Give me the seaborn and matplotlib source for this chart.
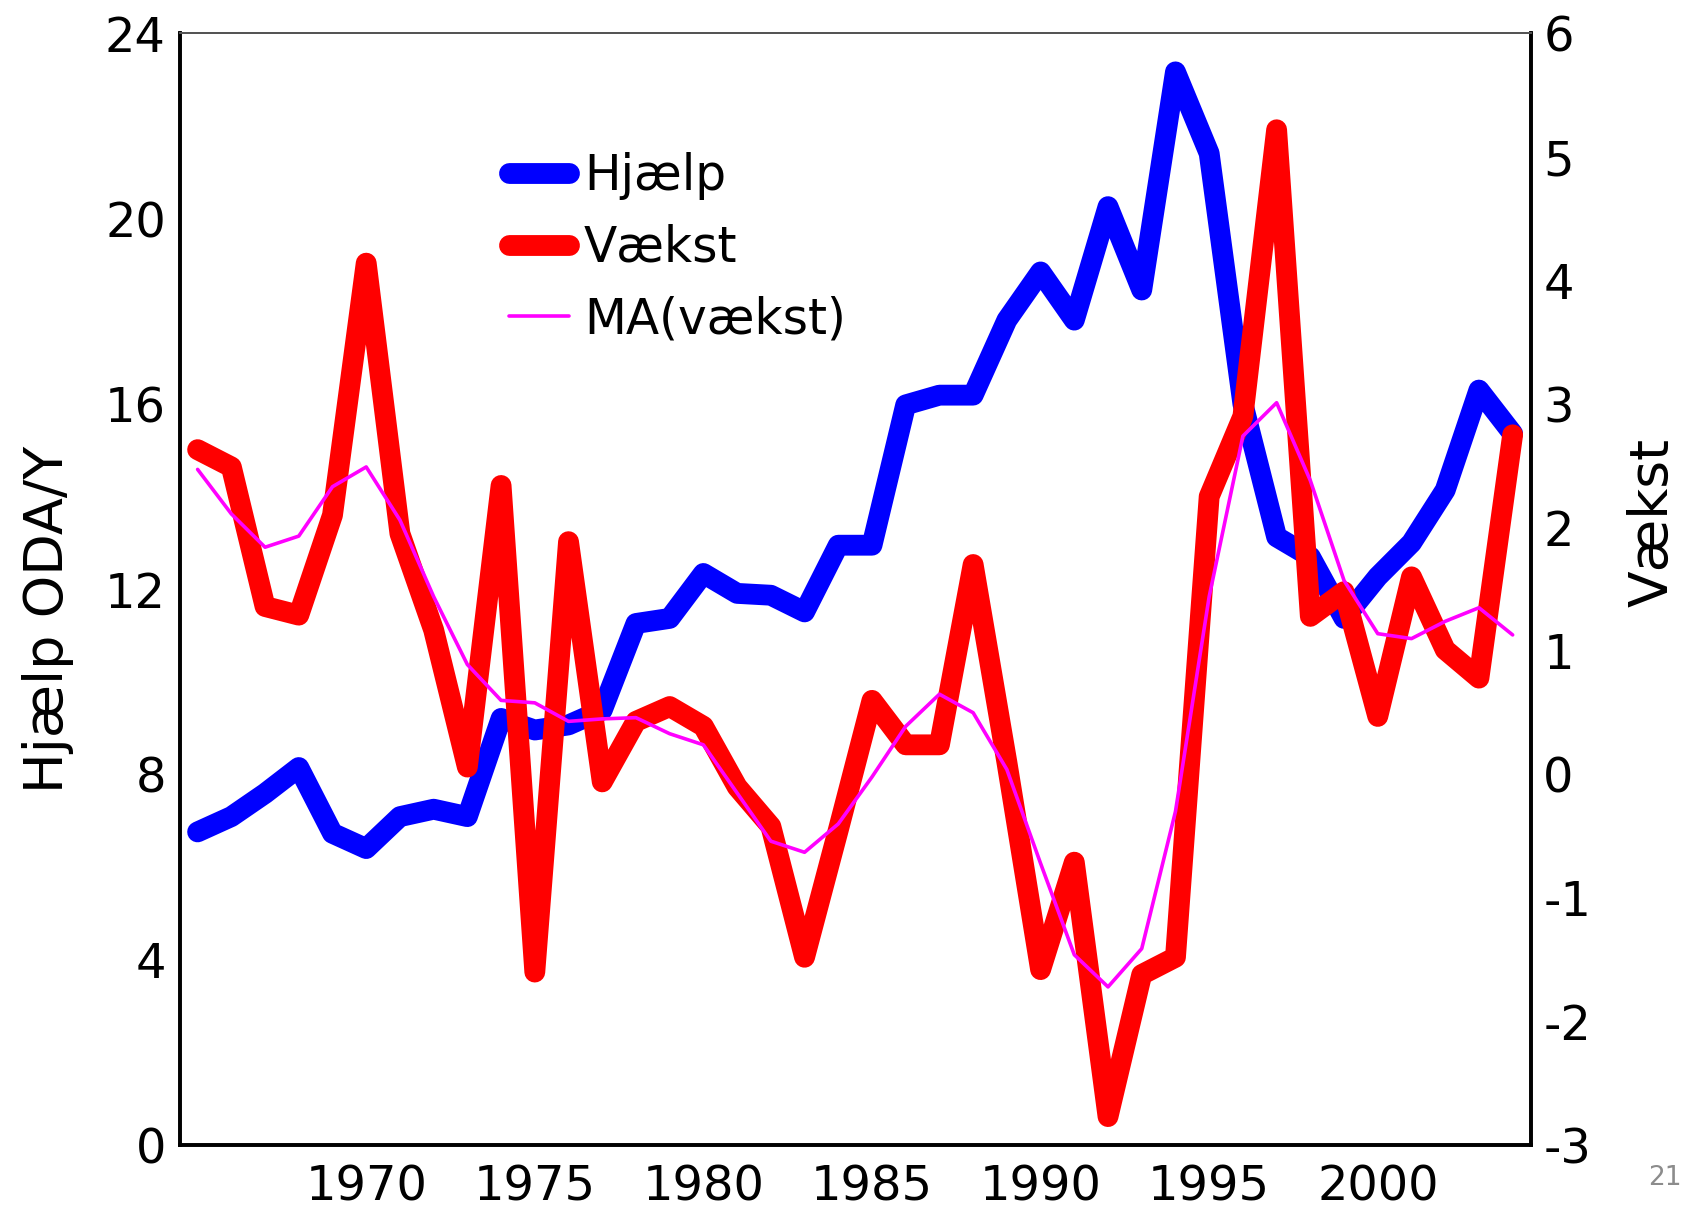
import matplotlib
matplotlib.use("Agg")
import matplotlib.pyplot as plt
import seaborn as sns
import pandas as pd

# data
years = list(range(1965, 2005))
hjaelp = [6.76, 7.09, 7.59, 8.15, 6.73, 6.40, 7.09, 7.25, 7.09, 9.21,
          8.96, 9.07, 9.39, 11.26, 11.37, 12.34, 11.91, 11.87, 11.51, 12.95,
          12.95, 15.98, 16.19, 16.19, 17.81, 18.85, 17.81, 20.26, 18.46, 23.17,
          21.41, 16.0, 13.13, 12.7, 11.37, 12.27, 13.0, 14.14, 16.3, 15.36]
vaekst = [2.63, 2.49, 1.36, 1.29, 2.1, 4.14, 1.95, 1.17, 0.06, 2.34,
          -1.60, 1.885, -0.06, 0.43, 0.55, 0.39, -0.10, -0.42, -1.48, -0.45,
          0.60, 0.24, 0.24, 1.70, 0.1, -1.58, -0.71, -2.77, -1.62, -1.48,
          2.25, 2.90, 5.22, 1.28, 1.48, 0.47, 1.60, 1.01, 0.78, 2.75]
ma_vaekst = [2.47, 2.11, 1.84, 1.93, 2.33, 2.49, 2.06, 1.44, 0.89, 0.60,
             0.58, 0.43, 0.45, 0.46, 0.33, 0.24, -0.15, -0.54, -0.63, -0.40,
             -0.02, 0.39, 0.65, 0.50, 0.04, -0.72, -1.46, -1.72, -1.41, -0.30,
             1.44, 2.74, 3.01, 2.38, 1.57, 1.14, 1.10, 1.24, 1.35, 1.13]

left_ticks = [0, 4, 8, 12, 16, 20, 24]
right_ticks = [-3, -2, -1, 0, 1, 2, 3, 4, 5, 6]
x_ticks = [1965, 1970, 1975, 1980, 1985, 1990, 1995, 2000]
x_labels = ['', '1970', '1975', '1980', '1985', '1990', '1995', '2000']

df = pd.DataFrame({'year': years, 'Hjælp': hjaelp, 'Vækst': vaekst, 'MA': ma_vaekst})

sns.set_style("white")
plt.rcParams['font.family'] = ['DejaVu Sans']
plt.rcParams['axes.unicode_minus'] = False
plt.rcParams['text.color'] = 'black'
plt.rcParams['axes.labelcolor'] = 'black'
plt.rcParams['xtick.color'] = 'black'
plt.rcParams['ytick.color'] = 'black'

fig = plt.figure(figsize=(16.83, 12.11), dpi=100)
ax = fig.add_axes([0.1068, 0.0545, 0.8028, 0.9179])
ax2 = ax.twinx()

thick = dict(solid_joinstyle='round', solid_capstyle='round')
sns.lineplot(data=df, x='year', y='Hjælp', ax=ax, color='#0000FF', lw=15,
             label='Hjælp', legend=False, **thick)
sns.lineplot(data=df, x='year', y='Vækst', ax=ax2, color='#FF0000', lw=15,
             label='Vækst', legend=False, **thick)
sns.lineplot(data=df, x='year', y='MA', ax=ax2, color='#FF00FF', lw=2.6,
             label='MA(vækst)', legend=False)

ax.set_xlim(1964.47, 2004.54)
ax.set_ylim(0, 24)
ax2.set_ylim(-3, 6)
ax.set_xticks(x_ticks)
ax.set_xticklabels(x_labels)
ax.set_yticks(left_ticks)
ax2.set_yticks(right_ticks)

ax.tick_params(axis='x', direction='in', length=8.5, width=1.2, pad=13,
               labelsize=34.5, colors='black')
ax.tick_params(axis='y', length=0, pad=10, labelsize=34.5, colors='black')
ax2.tick_params(axis='y', length=0, pad=9, labelsize=34.5, colors='black')

ax.set_xlabel('')
ax.set_ylabel('Hjælp ODA/Y', fontsize=39, va='center', color='black')
ax.yaxis.set_label_coords(-0.0977, 0.473)
ax2.set_ylabel('Vækst', fontsize=38.5, rotation=90, va='center', color='black')
ax2.yaxis.set_label_coords(1.0903, 0.56)

for a in (ax, ax2):
    for side in ('left', 'right', 'bottom'):
        a.spines[side].set_color('black')
        a.spines[side].set_linewidth(2.6)
    a.spines['top'].set_color('#555555')
    a.spines['top'].set_linewidth(1.4)

h1, l1 = ax.get_legend_handles_labels()
h2, l2 = ax2.get_legend_handles_labels()
leg = ax2.legend(h1 + h2, l1 + l2, loc='upper left', bbox_to_anchor=(0.244, 0.893),
                 frameon=False, fontsize=35, handlelength=1.23, handletextpad=0.3,
                 labelspacing=0.48, borderpad=0, borderaxespad=0)
for t in leg.get_texts():
    t.set_color('black')

fig.text(0.999, 1 - 1191 / 1211, '21', ha='right', va='bottom',
         fontsize=19, color='#8c8c8c')

fig.savefig('out.png', dpi=100)
